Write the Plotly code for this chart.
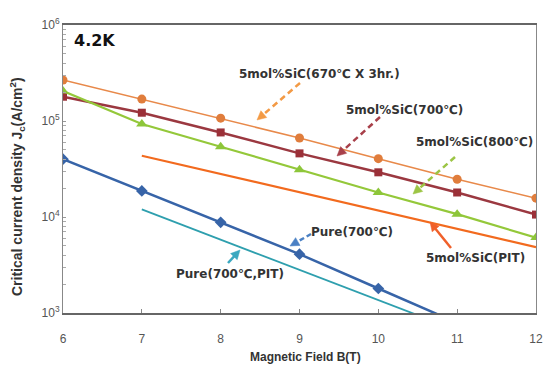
import plotly.graph_objects as go

# ---------------- data ----------------
B = [6, 7, 8, 9, 10, 11, 12]
B_pit = [7, 8, 9, 10, 11, 12]
B_pure = [6, 7, 8, 9, 10, 11]
B_pure_pit = [7, 8, 9, 10, 11]

sic_670_3hr = [2.67e5, 1.69e5, 1.07e5, 6.65e4, 4.05e4, 2.47e4, 1.57e4]
sic_700 = [1.79e5, 1.22e5, 7.6e4, 4.6e4, 2.92e4, 1.8e4, 1.06e4]
sic_800 = [2.05e5, 9.3e4, 5.4e4, 3.1e4, 1.8e4, 1.07e4, 6.1e3]
sic_pit = [4.35e4, 2.8e4, 1.8e4, 1.16e4, 7.5e3, 4.85e3]
pure_700 = [4.0e4, 1.87e4, 8.8e3, 4.1e3, 1.8e3, 7.9e2]
pure_700_pit = [1.2e4, 5.8e3, 2.8e3, 1.36e3, 6.6e2]

x_ticks = [6, 7, 8, 9, 10, 11, 12]
y_major = [1e3, 1e4, 1e5, 1e6]
y_major_text = ["10<sup>3</sup>", "10<sup>4</sup>", "10<sup>5</sup>", "10<sup>6</sup>"]

# ---------------- figure ----------------
fig = go.Figure()

fig.add_trace(go.Scatter(x=B, y=sic_670_3hr, mode="lines+markers",
                         line=dict(color="#E8894A", width=1.5),
                         marker=dict(symbol="circle", size=9, color="#E07D3C")))
fig.add_trace(go.Scatter(x=B, y=sic_700, mode="lines+markers",
                         line=dict(color="#9B3840", width=2.5),
                         marker=dict(symbol="square", size=8, color="#9B3038")))
fig.add_trace(go.Scatter(x=B, y=sic_800, mode="lines+markers",
                         line=dict(color="#94C83A", width=2.2),
                         marker=dict(symbol="triangle-up", size=10, color="#8DC63A")))
fig.add_trace(go.Scatter(x=B_pit, y=sic_pit, mode="lines",
                         line=dict(color="#F26A1E", width=2.2)))
fig.add_trace(go.Scatter(x=B_pure, y=pure_700, mode="lines+markers",
                         line=dict(color="#3764A8", width=2.5),
                         marker=dict(symbol="diamond", size=9, color="#3764A8")))
fig.add_trace(go.Scatter(x=B_pure_pit, y=pure_700_pit, mode="lines",
                         line=dict(color="#2E9FAE", width=1.8)))

# page body margin is removed by the post script, so figure pixels = window pixels
W, H = 543, 367
# plot area in window pixels
L, R, T, Bt = 63, 536, 25, 313


def px(xp):
    return (xp - L) / (R - L)


def py(yp):
    return (Bt - yp) / (Bt - T)


text_font = dict(family="DejaVu Sans", size=12, color="#333333")

labels = [
    ("5mol%SiC(670℃ X 3hr.)", 319, 74),
    ("5mol%SiC(700℃)", 404, 110),
    ("5mol%SiC(800℃)", 474, 142),
    ("Pure(700℃)", 352, 232),
    ("5mol%SiC(PIT)", 475, 258),
    ("Pure(700℃,PIT)", 230, 274),
]
for txt, xx, yy in labels:
    fig.add_annotation(x=px(xx), y=py(yy), xref="paper", yref="paper",
                       text="<b>" + txt + "</b>", showarrow=False, font=text_font,
                       xanchor="center", yanchor="middle")

fig.add_annotation(x=px(72), y=py(40), xref="paper", yref="paper",
                   text="<b>4.2K</b>", showarrow=False,
                   font=dict(family="DejaVu Sans", size=16, color="#111111"),
                   xanchor="left", yanchor="middle")

# axis titles
fig.add_annotation(x=px(305), y=py(357), xref="paper", yref="paper",
                   text="<b>Magnetic Field B(T)</b>", showarrow=False,
                   font=dict(family="Liberation Sans", size=12, color="#333333"),
                   xanchor="center", yanchor="middle")
fig.add_annotation(x=px(17), y=py(187), xref="paper", yref="paper",
                   text="<b>Critical current density J<sub>c</sub>(A/cm<sup>2</sup>)</b>",
                   showarrow=False, textangle=-90,
                   font=dict(family="Liberation Sans", size=14, color="#333333"),
                   xanchor="center", yanchor="middle")

# arrows: (tail x, tail y, head x, head y, color, dash)
arrows = [
    (300, 83, 257, 120, "#F39A45", "6px,4px"),
    (380, 117, 337, 156, "#A8404A", "6px,4px"),
    (455, 157, 413, 194, "#9CC545", "6px,4px"),
    (311, 234, 290, 246, "#4A80C4", "5px,3px"),
    (451, 248, 430, 222, "#F0602A", "solid"),
    (228, 263, 240, 250, "#3AA8C0", "solid"),
]
head_len, head_half = 9, 4.5
for tx, ty, hx, hy, col, dash in arrows:
    dx, dy = hx - tx, hy - ty
    n = (dx * dx + dy * dy) ** 0.5
    ux, uy = dx / n, dy / n
    bx, by = hx - ux * head_len, hy - uy * head_len
    nx, ny = -uy, ux
    fig.add_shape(type="line", xref="paper", yref="paper",
                  x0=px(tx), y0=py(ty), x1=px(bx + ux * 1), y1=py(by + uy * 1),
                  line=dict(color=col, width=2.5, dash=dash))
    p1 = (px(hx), py(hy))
    p2 = (px(bx + nx * head_half), py(by + ny * head_half))
    p3 = (px(bx - nx * head_half), py(by - ny * head_half))
    path = f"M {p1[0]} {p1[1]} L {p2[0]} {p2[1]} L {p3[0]} {p3[1]} Z"
    fig.add_shape(type="path", xref="paper", yref="paper", path=path,
                  fillcolor=col, line=dict(color=col, width=0.5))

fig.update_layout(
    width=W, height=H,
    margin=dict(l=L, r=W - R, t=T, b=H - Bt, autoexpand=False),
    plot_bgcolor="white", paper_bgcolor="white",
    showlegend=False,
    font=dict(family="Liberation Sans", color="#555555"),
)

fig.update_xaxes(
    range=[6, 12], tickvals=x_ticks, showgrid=False, zeroline=False,
    showline=True, linecolor="#666666", linewidth=1.5, mirror=True,
    ticks="inside", ticklen=4, tickcolor="#888888", automargin=False,
    ticklabelstandoff=14, ticklabeloverflow="allow",
    tickfont=dict(family="Liberation Sans", size=12, color="#555555"),
)
fig.update_yaxes(
    type="log", range=[3, 6], tickvals=y_major, ticktext=y_major_text,
    showgrid=False, zeroline=False, automargin=False,
    showline=True, linecolor="#888888", linewidth=1, mirror=True,
    ticks="inside", ticklen=3, tickcolor="#999999",
    minor=dict(ticks="inside", ticklen=3, tickcolor="#aaaaaa", dtick="D1"),
    tickfont=dict(family="Liberation Sans", size=12, color="#555555"),
)

fig.write_html(
    "out.html",
    config={"displayModeBar": False},
    post_script="document.body.style.margin='0';"
                "document.documentElement.style.overflow='hidden';"
                "document.body.style.overflow='hidden';",
)
